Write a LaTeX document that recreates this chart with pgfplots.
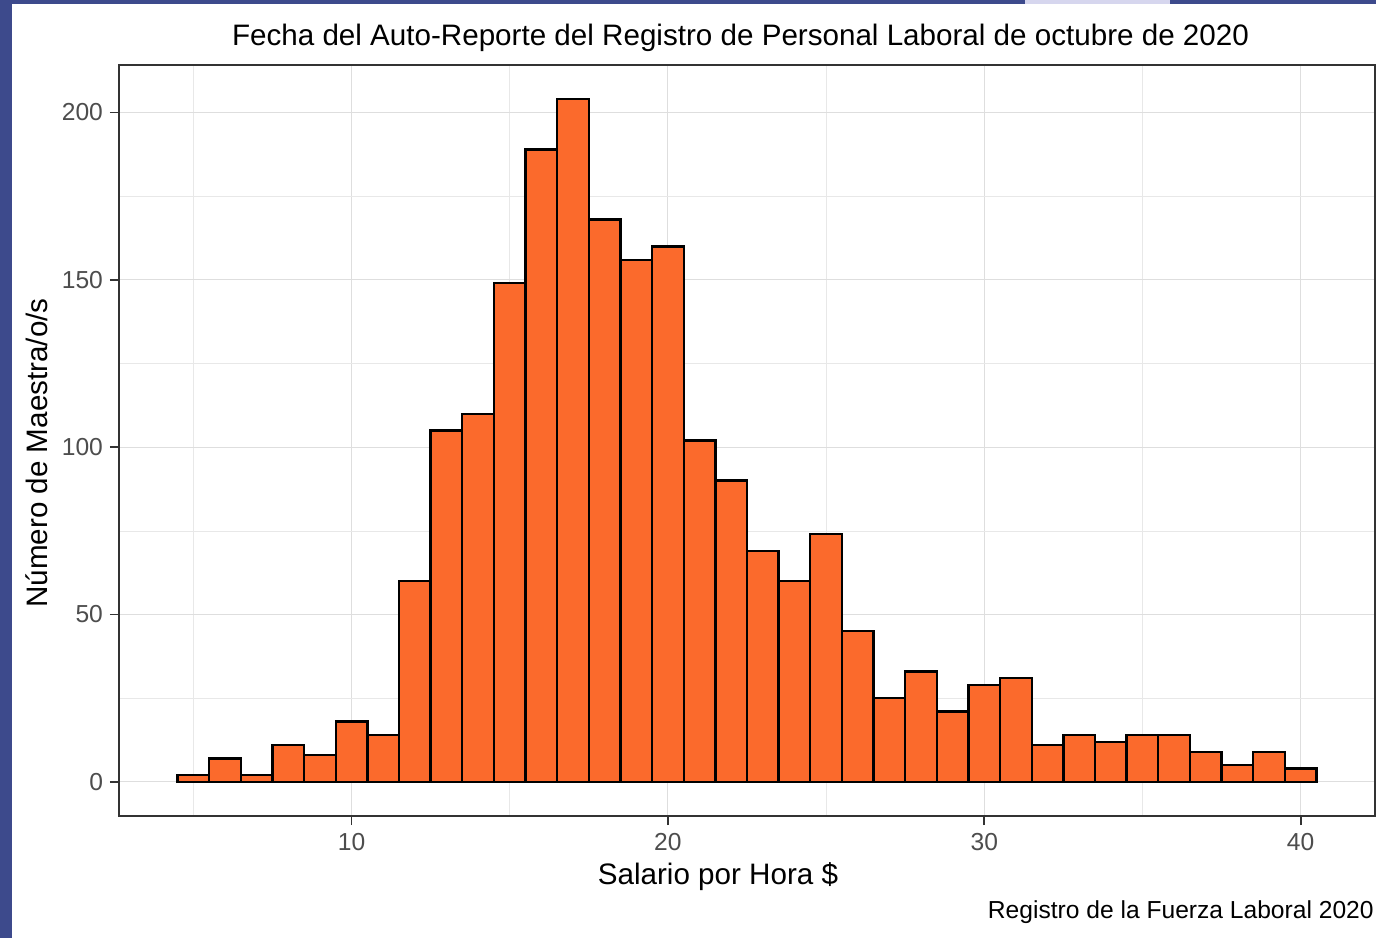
\documentclass[border=0pt]{standalone}
\usepackage{fontspec}
\setmainfont{Liberation Sans}
\usepackage{pgfplots}
\pgfplotsset{compat=1.18}
\definecolor{barfill}{HTML}{FB6A2C}
\definecolor{gridc}{HTML}{DEDEDE}
\definecolor{tickc}{HTML}{4D4D4D}
\definecolor{slideblue}{HTML}{3D4A8C}
\definecolor{lav}{HTML}{D6D6EE}
\begin{document}
\begin{tikzpicture}[x=1pt,y=1pt]
\path[use as bounding box] (0,0) rectangle (688,469);
\fill[white] (0,0) rectangle (688,469);
\fill[slideblue] (0,0) rectangle (6,469);
\fill[slideblue] (0,467) rectangle (688,469);
\fill[lav] (512.5,467) rectangle (585,469);
\begin{axis}[
  at={(59.5pt,61pt)}, anchor=south west,
  scale only axis, width=628pt, height=375.5pt,
  xmin=2.65, xmax=42.35, ymin=-10.2, ymax=214.2,
  axis line style={draw=black!80, line width=0.9pt},
  xtick={10,20,30,40}, ytick={0,50,100,150,200},
  minor xtick={5,15,25,35}, minor ytick={25,75,125,175},
  xtick pos=left, ytick pos=left,
  grid=both,
  major grid style={draw=gridc, line width=0.55pt},
  minor grid style={draw=gridc!70, line width=0.35pt},
  tick align=outside, major tick length=4.5pt, minor tick length=0pt,
  tick style={draw=black!80, line width=0.9pt},
  every tick label/.append style={font=\fontsize{12.3}{14}\selectfont, text=tickc},
  xticklabel style={yshift=-0.5pt},
  /pgf/number format/assume math mode=true,
  clip=false,
]
\addplot[ybar interval, fill=barfill, draw=black, line width=1.2pt] coordinates {
(4.5,2) (5.5,7) (6.5,2) (7.5,11) (8.5,8) (9.5,18) (10.5,14) (11.5,60)
(12.5,105) (13.5,110) (14.5,149) (15.5,189) (16.5,204) (17.5,168) (18.5,156)
(19.5,160) (20.5,102) (21.5,90) (22.5,69) (23.5,60) (24.5,74) (25.5,45)
(26.5,25) (27.5,33) (28.5,21) (29.5,29) (30.5,31) (31.5,11) (32.5,14)
(33.5,12) (34.5,14) (35.5,14) (36.5,9) (37.5,5) (38.5,9) (39.5,4) (40.5,4)
};
\end{axis}
\draw[black!80, line width=0.9pt] (59.5,61) rectangle (687.5,436.5);
\node[font=\fontsize{14.8}{17}\selectfont] at (370.25,450) {Fecha del Auto-Reporte del Registro de Personal Laboral de octubre de 2020};
\node[font=\fontsize{14.8}{17}\selectfont, rotate=90] at (18.5,242.5) {Número de Maestra/o/s};
\node[font=\fontsize{14.8}{17}\selectfont] at (359,30.5) {Salario por Hora \$};
\node[font=\fontsize{12.3}{14}\selectfont, anchor=east, inner sep=0pt] at (687,13) {Registro de la Fuerza Laboral 2020};
\end{tikzpicture}
\end{document}
